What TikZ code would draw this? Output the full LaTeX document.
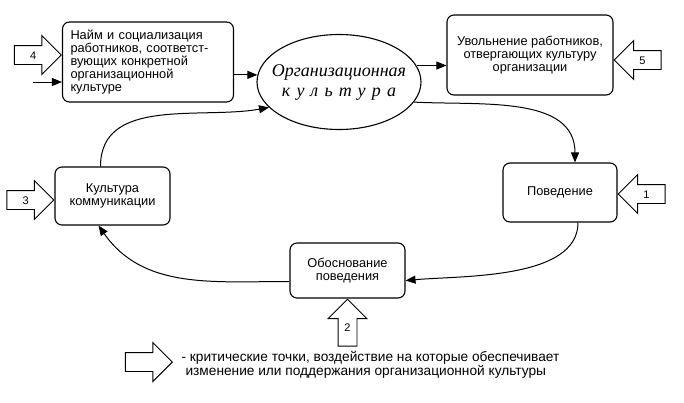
\documentclass[tikz,border=0pt]{standalone}
\usepackage{fontspec}
\setmainfont{Liberation Serif}
\setsansfont{Liberation Sans}
\usetikzlibrary{positioning, shapes.geometric, shapes.arrows, arrows.meta}
\tikzset{
  block/.style={draw, line width=1.1pt, rounded corners=7pt, align=center,
    font=\sffamily\fontsize{12.8}{13.2}\selectfont, inner sep=2pt},
  critpoint/.style={single arrow, draw, line width=0.9pt,
    single arrow head extend=10pt, minimum height=47pt,
    font=\sffamily\fontsize{11}{11}\selectfont, text width=10pt, align=center,
    text height=9pt, text depth=1pt, inner ysep=4pt, inner xsep=4pt, anchor=tip},
  link/.style={-{Triangle[length=10pt,width=8pt]}, line width=1pt},
}

\begin{document}
\begin{tikzpicture}[x=1pt, y=1pt]
\useasboundingbox (0,0) rectangle (684,-402);

% the culture in the middle
\node[ellipse, draw, line width=1.1pt, minimum width=164pt, minimum height=95pt,
      inner sep=0pt] (org) at (339,-82) {};
\node[font=\itshape\fontsize{18}{20}\selectfont, align=center] (orgtext) at (org)
      {Организационная\\{\addfontfeatures{LetterSpace=35}культура}};

% blocks of the cycle
\node[block, minimum width=171pt, minimum height=80pt, text width=155pt, align=left]
      (hire) at (148,-62)
      {Найм и социализация\\работников, соответст-\\вующих конкретной\\организационной\\культуре};
\node[block, minimum width=166pt, minimum height=80pt] (fire) at (530,-55)
      {Увольнение работников,\\отвергающих культуру\\организации};
\node[block, minimum width=114pt, minimum height=59pt] (behav) at (560,-192.5) {Поведение};
\node[block, minimum width=115pt, minimum height=55pt] (just) at (347.5,-270.5)
      {Обоснование\\поведения};
\node[block, minimum width=115pt, minimum height=58pt] (comm) at (112.5,-196)
      {Культура\\коммуникации};

% critical points
\node[critpoint] (p4) at ([yshift=7pt]hire.west) {4};
\node[critpoint, shape border rotate=180] (p5) at ([yshift=-5pt]fire.east) {5};
\node[critpoint, shape border rotate=180] (p1) at ([yshift=-1.5pt]behav.east) {1};
\node[critpoint, shape border rotate=90] (p2) at (just.south) {2};
\node[critpoint] (p3) at ([yshift=-4pt]comm.west) {3};

% connectors
\coordinate (ext) at (33,-82);
\draw[link] (ext) -- (hire.west |- ext);
\draw[link] (hire.east |- org.175) -- (org.175);
\draw[link] (org.12) -- (fire.west |- org.12);
\draw[link] (org.-15) to[out=-3, in=90] ([xshift=15pt]behav.north);
\draw[link] ([xshift=18pt]behav.south) to[out=-90, in=5, looseness=0.8] ([yshift=-10pt]just.east);
\draw[link] ([yshift=-11pt]just.west) to[out=180, in=-55] ([xshift=-14pt]comm.south);
\draw[link] ([xshift=-12pt]comm.north) to[out=90, in=190] (org.200);

% legend
\node[critpoint] (key) at (173,-362) {};
\node[anchor=west, align=left, font=\sffamily\fontsize{13.7}{14}\selectfont] (keytext)
      at (178,-365)
      {- критические точки, воздействие на которые обеспечивает\\
       \hspace*{4pt}изменение или поддержания организационной культуры};
\end{tikzpicture}
\end{document}
